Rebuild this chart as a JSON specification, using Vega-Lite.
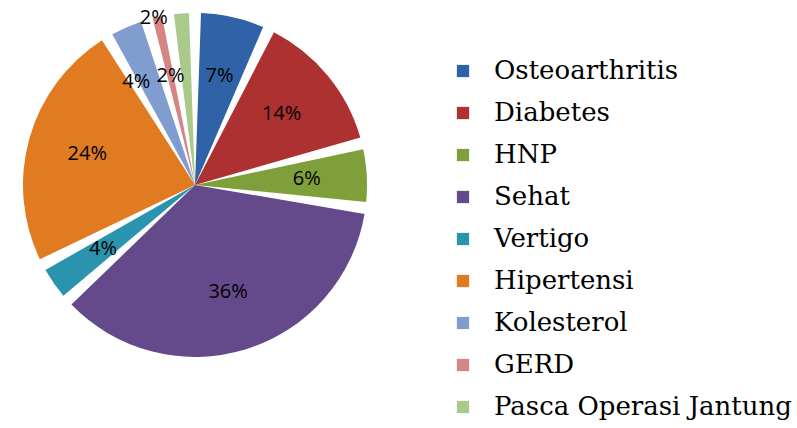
{
  "$schema": "https://vega.github.io/schema/vega-lite/v6.json",
  "width": 390,
  "height": 370,
  "padding": {"left": 0, "top": 0, "right": 0, "bottom": 0},
  "background": "white",
  "data": {
    "values": [
      {"kategori": "Osteoarthritis", "nilai": 7, "label": "7%", "urut": 1},
      {"kategori": "Diabetes", "nilai": 14, "label": "14%", "urut": 2},
      {"kategori": "HNP", "nilai": 6, "label": "6%", "urut": 3},
      {"kategori": "Sehat", "nilai": 36, "label": "36%", "urut": 4},
      {"kategori": "Vertigo", "nilai": 4, "label": "4%", "urut": 5},
      {"kategori": "Hipertensi", "nilai": 24, "label": "24%", "urut": 6},
      {"kategori": "Kolesterol", "nilai": 4, "label": "4%", "urut": 7},
      {"kategori": "GERD", "nilai": 2, "label": "2%", "urut": 8},
      {"kategori": "Pasca Operasi Jantung", "nilai": 2.5, "label": "2%", "urut": 9}
    ]
  },
  "encoding": {
    "theta": {"field": "nilai", "type": "quantitative", "stack": true},
    "order": {"field": "urut", "type": "quantitative"},
    "color": {
      "field": "kategori",
      "type": "nominal",
      "sort": ["Osteoarthritis", "Diabetes", "HNP", "Sehat", "Vertigo", "Hipertensi", "Kolesterol", "GERD", "Pasca Operasi Jantung"],
      "scale": {
        "domain": ["Osteoarthritis", "Diabetes", "HNP", "Sehat", "Vertigo", "Hipertensi", "Kolesterol", "GERD", "Pasca Operasi Jantung"],
        "range": ["#2F62A6", "#AE3131", "#7F9F3A", "#644A8A", "#2A93AE", "#E07B22", "#819CCE", "#D58583", "#A9CA8A"]
      },
      "legend": {
        "orient": "none",
        "legendX": 450,
        "legendY": 58,
        "title": null,
        "symbolType": "square",
        "symbolSize": 150,
        "symbolStrokeWidth": 0,
        "labelFont": "DejaVu Serif",
        "labelFontSize": 26,
        "labelColor": "#000000",
        "labelOffset": 18,
        "rowPadding": 16,
        "labelLimit": 400
      }
    }
  },
  "layer": [
    {
      "mark": {"type": "arc", "outerRadius": 172, "innerRadius": 0, "padAngle": 0.07, "stroke": null}
    },
    {
      "mark": {"type": "text", "radius": 112, "font": "Open Sans", "fontSize": 20, "color": "#000000"},
      "encoding": {
        "text": {"condition": {"test": "datum.urut == 7 || datum.urut == 9", "value": ""}, "field": "label", "type": "nominal"},
        "color": {"value": "#000000"}
      }
    },
    {
      "mark": {"type": "text", "radius": 112, "dx": -14, "font": "Open Sans", "fontSize": 20, "color": "#000000"},
      "encoding": {
        "text": {"condition": {"test": "datum.urut != 7", "value": ""}, "field": "label", "type": "nominal"},
        "color": {"value": "#000000"}
      }
    },
    {
      "mark": {"type": "text", "radius": 168, "dx": -28, "font": "Open Sans", "fontSize": 20, "color": "#000000"},
      "encoding": {
        "text": {"condition": {"test": "datum.urut != 9", "value": ""}, "field": "label", "type": "nominal"},
        "color": {"value": "#000000"}
      }
    }
  ],
  "config": {"view": {"stroke": null}}
}
